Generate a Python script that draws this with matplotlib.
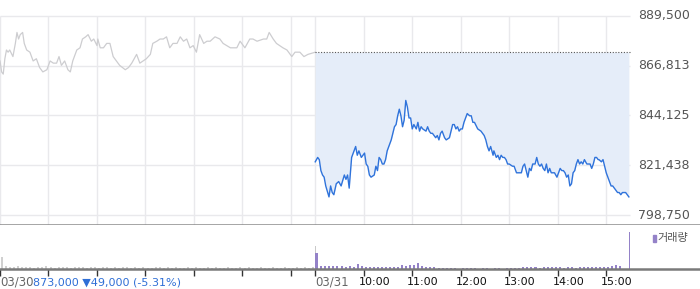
import numpy as np
import matplotlib
matplotlib.use('Agg')
import matplotlib.pyplot as plt
from matplotlib import transforms

# minutes from 09:00 of 03/30 (day 2 starts at minute 390)
t_prev = [0, 2, 4, 6, 8, 10, 12, 16, 19, 21, 23, 25, 28, 30, 33, 37, 41, 45, 49, 53,
          58, 62, 66, 70, 73, 76, 80, 84, 87, 90, 95, 99, 102, 106, 109, 113, 116, 120,
          121, 124, 128, 132, 136, 140, 144, 148, 155, 159, 163, 169, 173, 177, 181, 186,
          189, 194, 198, 202, 206, 210, 214, 219, 223, 227, 231, 235, 239, 243, 247, 252,
          256, 260, 266, 272, 276, 285, 293, 297, 303, 309, 313, 318, 326, 330, 333, 338,
          342, 350, 355, 361, 365, 371, 376, 381, 390]
p_prev = [869000, 864000, 863000, 870000, 874000, 873000, 874000, 871000, 877000, 882000,
          879000, 881000, 882000, 877000, 874000, 873000, 869000, 870000, 866000, 864000,
          865000, 869000, 868000, 868000, 871000, 867000, 869000, 865000, 864000, 869000,
          874000, 875000, 879000, 880000, 881000, 878000, 879000, 876000, 879000, 875000,
          875000, 877000, 877000, 871000, 869000, 867000, 865000, 866000, 868000, 872000,
          868000, 869000, 870000, 872000, 877000, 878000, 879000, 879000, 880000, 875000,
          877000, 877000, 880000, 878000, 879000, 875000, 876000, 873000, 881000, 877000,
          878000, 878000, 880000, 879000, 877000, 875000, 875000, 878000, 875000, 879000,
          879000, 878000, 879000, 879000, 882000, 879000, 877000, 875000, 874000, 871000,
          873000, 873000, 871000, 872000, 873000]

t_today = [390, 393, 395, 397, 399, 401, 403, 407, 409, 411, 413, 416, 419, 422, 426, 428,
           430, 432, 435, 438, 440, 442, 444, 447, 449, 451, 453, 455, 457, 459, 463, 465,
           467, 469, 471, 473, 475, 477, 479, 482, 484, 486, 488, 490, 492, 494, 496, 498,
           500, 502, 504, 506, 508, 510, 512, 515, 517, 519, 521, 523, 527, 529, 531, 533,
           535, 537, 539, 541, 543, 545, 547, 550, 552, 556, 558, 560, 562, 564, 566, 568,
           570, 572, 574, 576, 578, 581, 583, 585, 587, 591, 595, 599, 601, 603, 605, 607,
           610, 611, 614, 616, 618, 620, 622, 624, 626, 628, 630, 634, 636, 639, 643, 645,
           647, 649, 651, 653, 655, 657, 659, 662, 664, 666, 668, 670, 672, 674, 676, 678,
           680, 682, 686, 689, 691, 693, 695, 697, 699, 701, 703, 705, 707, 709, 711, 713,
           715, 717, 719, 721, 723, 726, 730, 732, 734, 736, 738, 740, 741, 744, 746, 748,
           750, 752, 754, 756, 758, 760, 762, 764, 766, 768, 770, 774, 776, 778]
p_today = [823000, 825000, 824000, 819000, 817000, 816000, 812000, 807000, 812000, 809000,
           808000, 813000, 814000, 812000, 817000, 815000, 817000, 811000, 825000, 828000,
           830000, 826000, 828000, 825000, 826000, 827000, 822000, 821000, 817000, 816000,
           817000, 821000, 819000, 825000, 824000, 822000, 822000, 824000, 828000, 831000,
           833000, 836000, 839000, 840000, 844000, 847000, 844000, 839000, 842000, 851000,
           848000, 843000, 843000, 838000, 840000, 838000, 841000, 837000, 839000, 838000,
           837000, 839000, 837000, 836000, 836000, 835000, 834000, 835000, 833000, 836000,
           837000, 834000, 833000, 834000, 837000, 840000, 840000, 838000, 839000, 837000,
           838000, 838000, 841000, 843000, 845000, 844000, 844000, 841000, 841000, 838000,
           837000, 835000, 833000, 830000, 828000, 830000, 826000, 828000, 825000, 826000,
           824000, 826000, 825000, 825000, 824000, 822000, 822000, 821000, 821000, 818000,
           818000, 818000, 821000, 822000, 819000, 816000, 820000, 819000, 822000, 822000,
           825000, 822000, 821000, 822000, 820000, 819000, 822000, 818000, 820000, 818000,
           818000, 816000, 818000, 820000, 819000, 819000, 818000, 816000, 817000, 812000,
           813000, 818000, 819000, 822000, 824000, 822000, 823000, 822000, 824000, 822000,
           822000, 820000, 822000, 825000, 825000, 824000, 824000, 823000, 824000, 821000,
           818000, 816000, 814000, 812000, 812000, 811000, 810000, 809000, 809000, 808000,
           809000, 809000, 808000, 807000]

prev_close = 873000

# volume, 5-minute bins
vol_prev = [110, 20, 15, 10, 25, 10, 15, 10, 8, 10, 15, 20, 10, 8, 10, 15, 10, 8, 10, 10,
            15, 8, 10, 10, 8, 15, 10, 8, 10, 8, 10, 15, 8, 10, 8, 10, 8, 8, 10, 15,
            8, 10, 8, 10, 8, 8, 10, 8, 10, 8, 8, 10, 8, 10, 8, 8, 10, 8, 8, 10,
            8, 10, 8, 8, 10, 8, 8, 10, 8, 8, 10, 8, 8, 10, 8, 10, 8, 15]
vol_today = [150, 25, 20, 20, 25, 20, 20, 15, 20, 15, 40, 20, 15, 15, 12, 12, 15, 12, 12, 12,
             15, 30, 25, 35, 30, 50, 20, 15, 12, 12, 8, 8, 8, 8, 8, 0, 8, 8, 8, 8,
             0, 8, 8, 0, 8, 8, 0, 8, 8, 8, 8, 12, 12, 12, 12, 8, 12, 12, 12, 12,
             12, 8, 12, 12, 8, 12, 12, 12, 12, 12, 12, 12, 15, 20, 30, 20]
close_auction_t = 779
close_auction_vol = 360

yticks = [798750, 821438, 844125, 866813, 889500]
grid_prev = [0, 60, 120, 180, 240, 300, 360]
grid_today = [390, 450, 510, 570, 630, 690, 750]
time_labels = ['10:00', '11:00', '12:00', '13:00', '14:00', '15:00']

GRID = '#e9e9ec'
BLUE = '#2f73db'
PURPLE = '#9482c8'

fig = plt.figure(figsize=(7, 2.89), dpi=100)
x_end = 780
x_max = 866

ax = fig.add_axes([0, 0.2215, 1, 0.7785])
ax.set_xlim(0, x_max)
ax.set_ylim(794196, 896796)
ax.axis('off')

ax.hlines(yticks, 0, x_end, color=GRID, lw=1, zorder=0)
ax.vlines(grid_prev + grid_today, 794196, yticks[-1], color=GRID, lw=1, zorder=0)

ax.fill_between(t_today, p_today, prev_close, color='#e5edf9', lw=0, zorder=1)
ax.hlines(prev_close, 390, x_end, color='#555555', lw=0.8, linestyles=(0, (1, 1.5)), zorder=3)
ax.plot(t_prev, p_prev, color='#cdcdd0', lw=0.9, zorder=2)
ax.plot(t_today, p_today, color=BLUE, lw=1.0, zorder=4)
ax.axhline(794196, color='#8a8a8a', lw=1.8)

for v in yticks:
    ax.text(789, v, f'{v:,}', fontsize=9, color='#555555', va='center', ha='left')

# volume panel
vx = fig.add_axes([0, 0.0709, 1, 0.147])
vx.set_xlim(0, x_max)
vx.set_ylim(0, 420)
for s in ['top', 'left', 'right']:
    vx.spines[s].set_visible(False)
vx.spines['bottom'].set_color('#7a7a7a')
vx.spines['bottom'].set_linewidth(1.8)
vx.set_yticks([])

t_vp = np.arange(len(vol_prev)) * 5 + 2.5
t_vt = 390 + np.arange(len(vol_today)) * 5 + 2.5
vx.bar(t_vp, vol_prev, width=2.5, color='#d0d0d0', lw=0)
vx.bar(390, 220, width=1.2, color='#c9c9c9', lw=0)
vx.bar(t_vt, vol_today, width=2.5, color=PURPLE, lw=0)
vx.bar(390.8, vol_today[0], width=1.5, color=PURPLE, lw=0)
vx.bar(close_auction_t, close_auction_vol, width=1.5, color=PURPLE, lw=0)

vx.set_xticks(grid_prev + grid_today)
vx.set_xticklabels([])
vx.tick_params(axis='x', length=5, width=1, color='#333333', direction='out')

trans = vx.get_xaxis_transform()
lab_y = -0.32
vx.text(0, lab_y, '03/30', fontsize=8.5, color='#666666', transform=trans, va='center', ha='left')
vx.text(390, lab_y, '03/31', fontsize=8.5, color='#666666', transform=trans, va='center', ha='left')
off = transforms.offset_copy(trans, fig=fig, x=-5, y=0, units='dots')
for t, lab in zip(grid_today[1:], time_labels):
    vx.text(t, lab_y, lab, fontsize=8, color='#111111', transform=off, va='center', ha='left')
off2 = transforms.offset_copy(trans, fig=fig, x=33, y=0, units='dots')
vx.text(0, lab_y, '873,000 \u25bc49,000 (-5.31%)', fontsize=8, color='#2f6fd6',
        transform=off2, va='center', ha='left')

# legend
fig.patches.append(plt.Rectangle((653 / 700, 1 - 242 / 289), 2.5 / 700, 7 / 289,
                                 transform=fig.transFigure, color=PURPLE, figure=fig))
fig.text(657 / 700, 1 - 238.5 / 289, '거래량', fontsize=8, color='#555555', va='center',
         ha='left', family=['Noto Sans CJK KR', 'DejaVu Sans'])

fig.savefig('out.png', dpi=100)
